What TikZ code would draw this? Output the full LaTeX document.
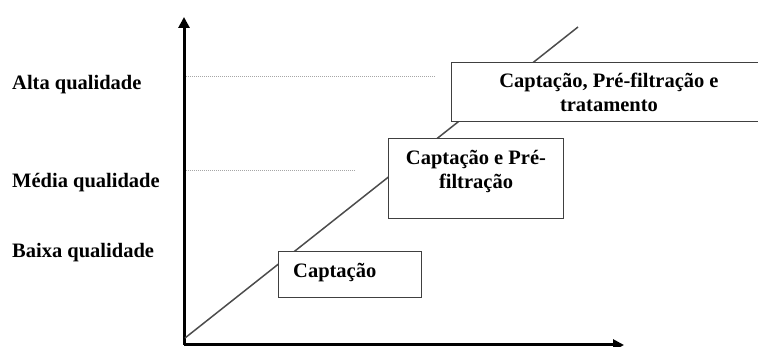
\documentclass[tikz,border=0pt]{standalone}
\usepackage{fontspec}
\setmainfont{Liberation Serif}
\usetikzlibrary{arrows.meta}
\begin{document}
\begin{tikzpicture}[x=1pt,y=-1pt,
  txt/.style={font=\fontsize{20.5}{24.5}\selectfont\bfseries, inner sep=0pt, text=black},
  box/.style={draw=black!75, line width=1.3pt, fill=white, inner sep=0pt},
  axis/.style={line width=3pt, -{Triangle[length=11pt,width=11pt]}},
  diag/.style={draw=black!70, line width=1.5pt},
  guide/.style={draw=gray!70, line width=0.9pt, dash pattern=on 1pt off 1pt}]
\useasboundingbox (0,0) rectangle (758,347);
% axes
\coordinate (O) at (184,345);
\coordinate (Ytop) at (184,17);
\coordinate (Xend) at (624,345);
\draw[axis] (O) -- (Ytop);
\draw[axis] (O) -- (Xend);
% guide lines
\coordinate (a1) at (186,76);
\coordinate (a2) at (435,76);
\coordinate (m1) at (186,170);
\coordinate (m2) at (356,170);
\draw[guide] (a1) -- (a2);
\draw[guide] (m1) -- (m2);
% diagonal
\coordinate (d0) at (185,338);
\coordinate (d1) at (578,27);
\draw[diag] (d0) -- (d1);
% labels
\node[txt, anchor=base west] (alta) at (12,90) {Alta qualidade};
\node[txt, anchor=base west] (media) at (12,188) {Média qualidade};
\node[txt, anchor=base west] (baixa) at (12,258) {Baixa qualidade};
% boxes
\node[box, anchor=north west, minimum width=143pt, minimum height=46pt] (b1) at (278,251) {};
\node[txt, anchor=base west] (t1) at (293,278) {Captação};
\node[box, anchor=north west, minimum width=175pt, minimum height=80pt] (b2) at (388,138) {};
\node[txt, anchor=base, align=center] (t2) at (476,189) {Captação e Pré-\\filtração};
\node[box, anchor=north west, minimum width=330pt, minimum height=59pt] (b3) at (451,62) {};
\node[txt, anchor=base, align=center] (t3) at (609,112) {Captação, Pré-filtração e\\tratamento};
\end{tikzpicture}
\end{document}
